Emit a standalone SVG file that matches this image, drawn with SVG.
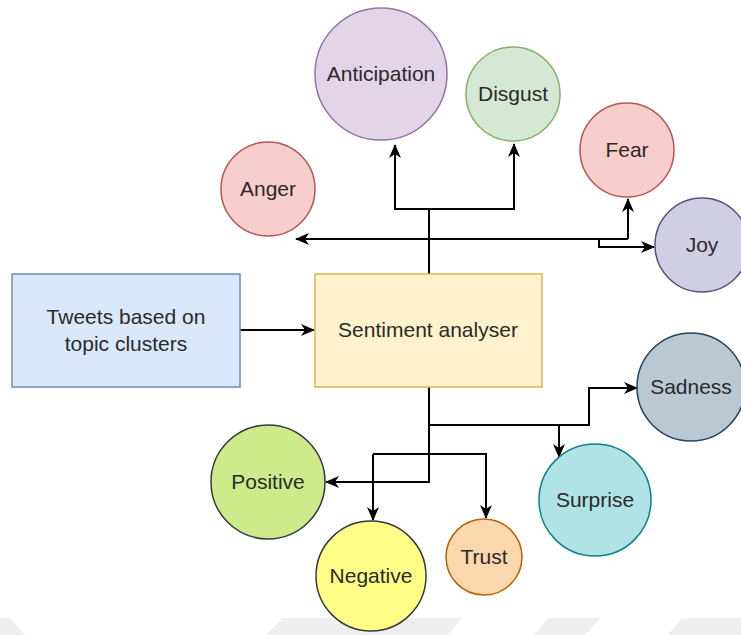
<svg xmlns="http://www.w3.org/2000/svg" width="741" height="635" viewBox="0 0 741 635">
<style>
text{font-family:"Liberation Sans",Arial,sans-serif;font-size:21px;fill:#2a2a2a;text-anchor:middle}
.c{fill:none;stroke:#000;stroke-width:2}
.n{stroke-width:1.5}
</style>
<defs>
<marker id="a" viewBox="0 0 14 12" refX="13" refY="6" markerWidth="14" markerHeight="12" markerUnits="userSpaceOnUse" orient="auto">
<path d="M0,0 L14,6 L0,12 L4,6 z" fill="#000"/>
</marker>
</defs>
<rect width="741" height="635" fill="#fff"/>
<g id="watermark" fill="#efefef">
<polygon points="0,618 10,618 25,635 0,635"/>
<polygon points="282,618 462,618 448,635 266,635"/>
<polygon points="548,618 600,618 586,635 534,635"/>
<polygon points="682,618 741,618 741,635 668,635"/>
</g>
<g id="connectors" class="c">
<path class="c" d="M240,330 H314" marker-end="url(#a)"/>
<path class="c" d="M429,274 V209 H395 V145" marker-end="url(#a)"/>
<path class="c" d="M429,209 H514 V144" marker-end="url(#a)"/>
<path class="c" d="M628,239 H296" marker-end="url(#a)"/>
<path class="c" d="M628,239 V199" marker-end="url(#a)"/>
<path class="c" d="M599,239 V247 H654" marker-end="url(#a)"/>
<path class="c" d="M429,387 V482 H326" marker-end="url(#a)"/>
<path class="c" d="M429,425 H589 V388 H637" marker-end="url(#a)"/>
<path class="c" d="M559,425 V457" marker-end="url(#a)"/>
<path class="c" d="M373,454 H486 V518" marker-end="url(#a)"/>
<path class="c" d="M373,454 V520" marker-end="url(#a)"/>
</g>
<g id="tweets"><rect class="n" x="12" y="274" width="228" height="113" fill="#dae8fc" stroke="#6c8ebf"/><text x="126" y="324">Tweets based on</text><text x="126" y="351">topic clusters</text></g>
<g id="sentiment"><rect class="n" x="315" y="274" width="227" height="113" fill="#fff2cc" stroke="#d6b656"/><text x="428" y="337">Sentiment analyser</text></g>
<g id="anticipation"><circle class="n" cx="381" cy="74" r="66" fill="#e1d5e7" stroke="#9673a6"/><text x="381" y="81">Anticipation</text></g>
<g id="disgust"><circle class="n" cx="513" cy="94" r="47" fill="#d5e8d4" stroke="#82b366"/><text x="513" y="101">Disgust</text></g>
<g id="anger"><circle class="n" cx="268" cy="189" r="47" fill="#f8cecc" stroke="#b85450"/><text x="268" y="196">Anger</text></g>
<g id="fear"><circle class="n" cx="627" cy="150" r="47" fill="#f8cecc" stroke="#b85450"/><text x="627" y="157">Fear</text></g>
<g id="joy"><circle class="n" cx="702" cy="245" r="47" fill="#d0cee2" stroke="#56517e"/><text x="702" y="252">Joy</text></g>
<g id="sadness"><circle class="n" cx="691" cy="387" r="54" fill="#bac8d3" stroke="#23445d"/><text x="691" y="394">Sadness</text></g>
<g id="surprise"><circle class="n" cx="595" cy="500" r="56" fill="#b0e3e6" stroke="#0e8088"/><text x="595" y="507">Surprise</text></g>
<g id="positive"><circle class="n" cx="268" cy="482" r="57" fill="#cdeb8b" stroke="#36393d"/><text x="268" y="489">Positive</text></g>
<g id="negative"><circle class="n" cx="371" cy="576" r="55" fill="#ffff88" stroke="#36393d"/><text x="371" y="583">Negative</text></g>
<g id="trust"><circle class="n" cx="484" cy="557" r="38" fill="#fad7ac" stroke="#b46504"/><text x="484" y="564">Trust</text></g>
</svg>
